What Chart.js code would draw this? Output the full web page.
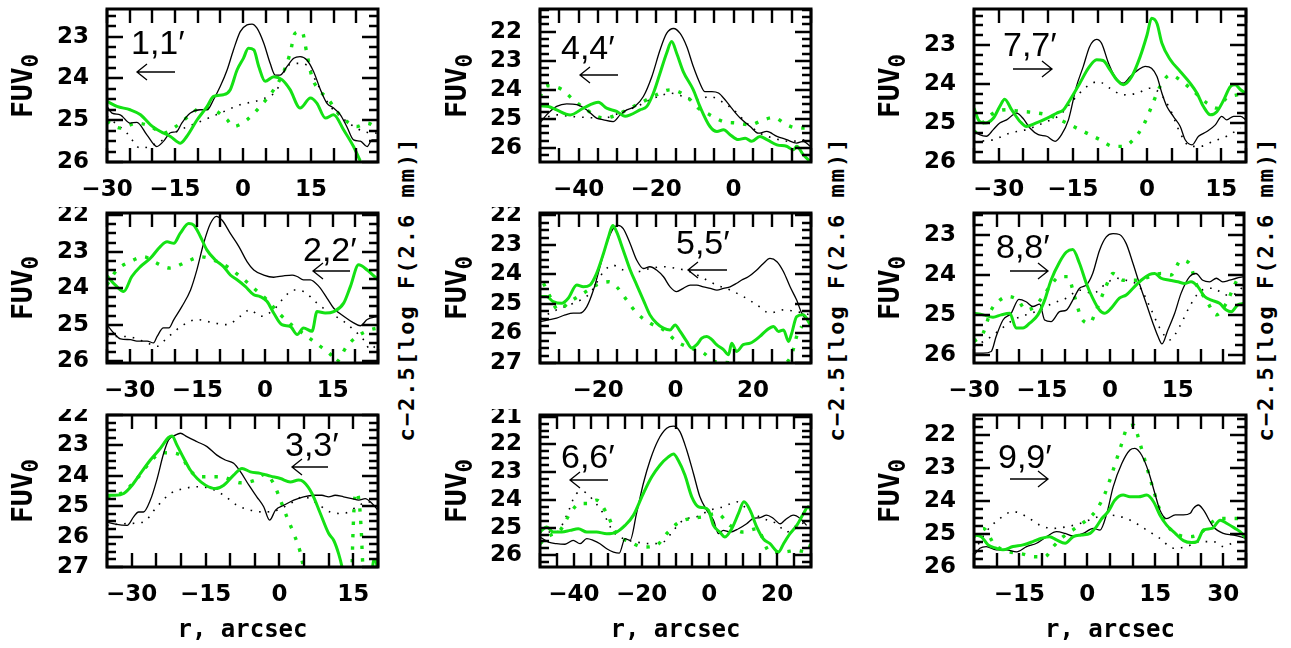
<!DOCTYPE html>
<html>
<head>
<meta charset="utf-8">
<script src="https://cdn.jsdelivr.net/npm/chart.js@4.4.1/dist/chart.umd.min.js"></script>
<style>
  body { margin: 0; background: #fff; width: 1291px; height: 648px; position: relative; overflow: hidden; }
  canvas, svg.ticks { position: absolute; }
  .ytitle, .side, .xtitle, .note { position: absolute; white-space: nowrap; color: #000; line-height: 1; }
  .ytitle { font: bold 28px "DejaVu Sans Mono"; transform: translate(-50%, -50%) rotate(-90deg); }
  .ytitle span { font-size: 0.8em; position: relative; top: 0.25em; }
  .side { font: bold 22px "DejaVu Sans Mono"; letter-spacing: 2px; transform: translate(-50%, -50%) rotate(-90deg); }
  .xtitle { font: bold 24px "DejaVu Sans Mono"; transform: translate(-50%, -50%); }
  .note { font: 34px "Liberation Sans"; }
</style>
</head>
<body>
<script>
// profiles along the slits: [r, magnitude]
// Solid = black solid, Dot = black dotted, Green = green solid, GreenDot = green dotted
const p1Solid = [[-30,24.67],[-28.9,24.83],[-27.1,24.87],[-24.9,25.07],[-23.4,25.05],[-21.2,25.35],[-19,25.63],[-17.5,25.5],[-16,25.3],[-14.6,25.27],[-13.5,25.07],[-11.6,24.83],[-9.4,24.75],[-7.9,24.75],[-6.5,24.51],[-5,24.19],[-3.5,23.8],[-2.1,23.32],[-0.6,22.88],[0.9,22.72],[2,22.7],[3.1,22.8],[4.6,23.16],[6,23.64],[7.1,23.92],[8.2,23.92],[9.7,23.72],[11.2,23.52],[12.6,23.48],[14.1,23.56],[15.6,23.84],[17.1,24.27],[18.5,24.59],[20,24.71],[21.5,24.87],[22.9,25.15],[24.4,25.47],[25.9,25.5],[27.4,25.63],[28.5,25.47],[29.6,25.47]];
const p1Dot = [[-30,24.91],[-25.6,25.31],[-22.6,25.67],[-19,25.55],[-14.6,25.27],[-9.4,25.03],[-5,24.83],[-0.6,24.63],[3.8,24.51],[7.5,24.27],[9.7,23.72],[11.9,23.64],[14.1,23.68],[16.3,24.11],[19.3,24.67],[22.9,25.03],[26.6,25.27],[29.6,25.31]];
const p1Green = [[-30,24.55],[-27.8,24.67],[-24.9,24.75],[-22.6,24.87],[-20.4,25.11],[-18.2,25.27],[-16,25.39],[-13.8,25.55],[-12.4,25.39],[-10.1,24.99],[-7.9,24.67],[-6.5,24.43],[-4.3,24.39],[-2.8,24.27],[-1.3,23.8],[0.1,23.52],[1.2,23.28],[2.4,23.32],[3.5,23.72],[4.9,24.07],[6.8,23.96],[8.6,24.03],[10.4,24.27],[12.6,24.71],[14.9,24.47],[16.3,24.59],[18.2,24.95],[20,24.87],[22.2,25.23],[24.4,25.63],[25.9,25.98]];
const p1GreenDot = [[-30,25.03],[-27.1,25.19],[-23.4,25.07],[-20.4,25.15],[-17.5,25.31],[-15.3,25.19],[-11.6,24.87],[-9.4,24.71],[-6.5,24.75],[-3.5,24.99],[-2.1,25.15],[0.9,24.99],[3.8,24.67],[6.8,24.27],[9,23.84],[10.4,23.4],[11.5,22.92],[13,22.88],[14.1,23.4],[15.2,23.96],[17.1,24.31],[18.9,24.51],[20.7,24.79],[22.9,25.03],[25.1,25.15],[27.4,25.07],[29.6,25.19]];

const p2Solid = [[-35,25],[-33.5,25.23],[-32,25.39],[-29.8,25.41],[-28.4,25.45],[-26.1,25.45],[-24.7,25.5],[-23.9,25.32],[-22.5,25.09],[-21.3,25.09],[-20.2,24.86],[-18.4,24.5],[-16.5,24.05],[-15.1,23.5],[-13.6,22.77],[-12.1,22.23],[-10.8,22.03],[-9.5,22.14],[-7.7,22.5],[-5.8,22.86],[-4,23.27],[-2.5,23.5],[-0.3,23.64],[1.9,23.7],[4.1,23.66],[6,23.64],[7.1,23.68],[8.5,23.77],[10,23.77],[11.9,23.95],[13.7,24.27],[15.2,24.55],[17.4,24.77],[19.6,24.95],[21.1,25.03],[22.6,24.86],[25,24.77]];
const p2Dot = [[-35,25.32],[-32,25.32],[-29.1,25.36],[-26.1,25.5],[-23.9,25.59],[-21.7,25.36],[-18,25],[-15.1,24.86],[-11.4,24.95],[-8.4,25],[-5.5,24.77],[-3.3,24.59],[-1.1,24.77],[1.9,24.59],[4.1,24.27],[6.3,24.05],[8.5,24.09],[11.5,24.41],[14.4,24.68],[17.4,24.91],[19.6,25.14],[21.8,25.41],[23.3,25.68],[25,25.5]];
const p2Green = [[-35,23.66],[-33.2,23.91],[-31.3,24.09],[-29.5,23.68],[-27.6,23.41],[-25.4,23.18],[-23.2,22.86],[-21.7,22.73],[-20.2,22.77],[-18.8,22.5],[-16.9,22.23],[-15.8,22.27],[-14.3,22.59],[-12.9,22.95],[-11,23.23],[-9.2,23.41],[-7.7,23.64],[-6.2,23.77],[-4.4,23.95],[-2.5,24.18],[-1.1,24.23],[0.4,24.36],[1.9,24.68],[3.7,25],[5.6,25.05],[7.1,25.27],[8.5,25.09],[10.4,25.18],[11.5,24.64],[13.3,24.68],[15.2,24.64],[17.4,24.41],[18.9,23.95],[20.7,23.36],[22.6,23.5],[25,23.77]];
const p2GreenDot = [[-35,23.91],[-32.8,23.5],[-29.8,23.27],[-26.9,23.14],[-23.9,23.32],[-21,23.45],[-17.3,23.27],[-14.3,23.14],[-11.4,23.23],[-8.4,23.41],[-5.5,23.68],[-2.5,24],[0.4,24.32],[3.4,24.73],[6.3,25.05],[9.3,25.32],[12.2,25.59],[14.8,25.86],[15.6,26.03],[18.1,25.59],[20.4,25.32],[23.3,25.14],[25,25.09]];

const p3Solid = [[-35,25.52],[-33.3,25.59],[-30.9,25.63],[-29.6,25.35],[-28.6,25.19],[-27.6,25.19],[-26.2,24.8],[-24.9,24.14],[-23.5,23.26],[-22.5,22.82],[-21.1,22.66],[-20.1,22.6],[-18.8,22.71],[-16.7,22.88],[-14.7,23.04],[-12.7,23.32],[-11,23.48],[-9.3,23.59],[-7.9,23.87],[-6.2,24.31],[-4.6,24.69],[-3.2,25.02],[-2,25.46],[-0.8,25.13],[0.9,24.97],[2.9,24.8],[4.9,24.69],[7,24.64],[8.6,24.64],[10,24.69],[11.3,24.64],[13,24.69],[14.7,24.75],[16.1,24.8],[17.4,24.75],[18.8,24.91],[20,25.13]];
const p3Dot = [[-35,25.63],[-30.9,25.57],[-27.6,25.52],[-24.9,25.02],[-22.1,24.58],[-19.4,24.42],[-16.7,24.36],[-14,24.42],[-11.3,24.64],[-8.6,24.97],[-5.9,25.13],[-3.2,25.19],[-0.5,25.13],[2.2,24.91],[4.9,24.69],[7.6,24.91],[10.3,25.19],[13,25.24],[15.7,25.02],[17.8,24.86],[20,24.86]];
const p3Green = [[-35,24.64],[-33.3,24.64],[-31.6,24.58],[-29.9,24.31],[-28.2,23.92],[-26.2,23.48],[-24.2,23.1],[-22.5,22.74],[-21.8,22.69],[-20.8,22.99],[-19.4,23.43],[-18.1,23.81],[-16.7,24.09],[-15,24.31],[-13,24.42],[-11.3,24.31],[-9.3,23.98],[-7.6,23.76],[-5.9,23.87],[-3.9,23.92],[-1.8,24.01],[0.2,24.09],[2.2,24.2],[3.9,24.14],[4.9,24.2],[6.6,24.58],[8.3,25.24],[10,25.9],[11,26.12],[12,26.56],[12.7,27],[13.4,27.6],[18.2,27.6],[18.7,27.3],[19.1,26.8],[19.5,26.75],[19.9,27.1]];
const p3GreenDot = [[-35,24.69],[-31.6,24.53],[-28.9,24.09],[-26.2,23.54],[-24.2,23.26],[-22.5,23.24],[-20.1,23.32],[-18.4,23.76],[-16.4,24.03],[-14.4,24.03],[-12,24.03],[-10,24.12],[-7.9,24.23],[-5.2,24.16],[-2.9,23.95],[-1.2,24.25],[0.2,24.8],[1.5,25.35],[2.9,25.9],[4.2,26.5],[4.9,27],[7,27.6],[14,27.6],[14.7,27.1],[14.9,26],[15.2,24.9],[15.6,24.55],[16.2,24.9],[16.6,25.8],[16.9,26.9],[17.2,27.4]];

const p4Solid = [[-50,25.14],[-48.3,24.86],[-45.7,24.57],[-43.1,24.48],[-40.5,24.51],[-37.9,24.69],[-35.4,24.97],[-33.6,25.03],[-31.1,25.09],[-29.3,24.86],[-27.6,24.69],[-25.5,24.57],[-23.3,24.23],[-21.1,23.54],[-19,22.63],[-17.3,22.06],[-15.5,21.89],[-13.8,22.06],[-12.1,22.51],[-10.4,23.2],[-8.7,23.77],[-7.4,24.06],[-5.6,24.06],[-3.9,24.11],[-2.2,24.34],[-0.5,24.63],[1.7,24.97],[4.3,25.26],[6.4,25.49],[8.6,25.43],[11.2,25.6],[13.7,25.71],[16.3,25.83],[18,25.77],[19.8,25.94]];
const p4Dot = [[-50,25.03],[-45.7,24.86],[-42.2,24.91],[-37.9,24.95],[-33.6,24.97],[-28.5,24.74],[-25,24.57],[-21.6,24.34],[-18.1,24.17],[-16.4,24.11],[-13,24.23],[-9.5,24.34],[-6.1,24.23],[-3.1,24.4],[0,24.69],[3.4,25.14],[6.8,25.49],[10.3,25.66],[14.6,25.77],[18.9,25.71]];
const p4Green = [[-50,24.55],[-47.8,24.57],[-45.7,24.69],[-42.2,24.86],[-38.8,24.63],[-34.9,24.43],[-32.8,24.63],[-30.2,24.74],[-28,24.91],[-26.7,24.86],[-24.2,24.69],[-22.4,24.57],[-20.7,24.11],[-19,23.43],[-17.3,22.74],[-16,22.34],[-14.7,22.74],[-13,23.37],[-10.4,24],[-8.7,24.57],[-6.1,25.26],[-4.3,25.43],[-2.6,25.37],[-0.9,25.54],[1.2,25.71],[3,25.66],[4.7,25.77],[6.8,25.6],[8.6,25.71],[11.2,25.89],[13.7,25.94],[15.5,26.06],[16.3,25.94],[18,26.23],[19.8,26.46]];
const p4GreenDot = [[-50,24.23],[-48.3,23.86],[-44.4,23.98],[-41.4,24.34],[-37.9,24.69],[-35.4,24.91],[-33.2,24.97],[-30.2,24.86],[-26.7,24.63],[-23.3,24.4],[-19.9,24.17],[-16.4,24],[-13.8,24.09],[-11.2,24.34],[-9.1,24.63],[-6.1,24.86],[-2.6,25.09],[0.8,25.14],[4.3,25.2],[7.7,25.03],[10.3,24.95],[13.7,25.2],[16.3,25.31],[18.9,25.31]];

const p5Solid = [[-35,25.6],[-32.8,25.54],[-30.7,25.48],[-28.5,25.37],[-26.4,25.31],[-24.7,25.31],[-22.9,25.09],[-21.2,24.53],[-19.5,23.74],[-17.8,22.96],[-16.1,22.45],[-14.8,22.34],[-13.5,22.45],[-11.7,22.96],[-10,23.52],[-8.3,23.8],[-6.6,23.74],[-4.9,23.85],[-3.1,24.08],[-1.4,24.42],[0.3,24.58],[2,24.47],[3.8,24.36],[5.5,24.36],[7.2,24.42],[9,24.47],[10.7,24.53],[12.4,24.47],[14.1,24.42],[15.8,24.3],[17.1,24.19],[18.8,24.08],[21,23.85],[22.7,23.63],[24.4,23.46],[26.2,23.57],[27.9,23.91],[29.6,24.42],[31.3,24.87],[32.6,25.31],[35,25.71]];
const p5Dot = [[-35,25.48],[-30.7,25.2],[-26.4,24.98],[-22.1,24.64],[-18.6,23.91],[-16.1,23.69],[-13.5,23.85],[-10,23.91],[-6.6,23.8],[-3.1,23.74],[0.3,23.8],[3.8,23.91],[7.2,24.13],[10.7,24.36],[14.1,24.53],[17.5,24.75],[21,25.03],[24.4,25.31],[27.9,25.2],[31.3,25.26],[34.8,25.37]];
const p5Green = [[-35,24.75],[-33.3,24.75],[-31.6,24.92],[-29.4,24.98],[-27.7,24.81],[-25.5,24.36],[-23.8,24.42],[-22.1,24.36],[-20.4,23.97],[-18.6,23.29],[-17.3,22.73],[-16.2,22.34],[-15.2,22.56],[-13.5,23.18],[-11.7,23.85],[-10,24.36],[-8.3,24.87],[-6.6,25.37],[-4.9,25.65],[-3.1,25.82],[-1.4,25.88],[-0.1,25.71],[1.2,25.93],[2.9,26.27],[4.2,26.49],[5.5,26.38],[6.8,26.16],[8.1,26.1],[9.4,26.21],[10.6,26.38],[12.4,26.55],[13.7,26.72],[14.5,26.33],[15.8,26.61],[17.5,26.38],[19.3,26.33],[21.8,26.1],[23.6,25.88],[25.3,25.76],[26.6,25.93],[27.9,25.88],[29.2,26.27],[30,26],[31.3,25.43],[33,25.37],[35,25.76]];
const p5GreenDot = [[-34.1,24.3],[-32.4,24.75],[-30.3,25.2],[-27.2,24.92],[-23.8,24.64],[-20.4,24.36],[-17.3,24.25],[-15.2,24.42],[-12.6,24.87],[-10,25.31],[-6.6,25.65],[-3.1,25.88],[0.3,26.27],[3.8,26.49],[7.2,26.66],[9.8,26.94],[12.4,26.98],[17.1,27.02],[22.7,27.04],[27.9,27.02],[30,26.72],[31.3,26.1],[32.6,25.76]];

const p6Solid = [[-50,25.34],[-47.5,25.52],[-45.1,25.58],[-42.6,25.6],[-40.2,25.46],[-38.2,25.58],[-36.2,25.4],[-34.3,25.46],[-32.3,25.58],[-30.3,25.76],[-28.3,25.88],[-26.6,25.92],[-24.9,25.4],[-23.4,25.46],[-21.5,24.49],[-19.5,23.41],[-17.5,22.57],[-15.1,21.84],[-12.6,21.42],[-10.6,21.34],[-8.7,21.54],[-6.7,22.2],[-4.7,23.05],[-2.8,23.89],[-0.8,24.37],[1.2,24.73],[2.7,25.22],[4.1,25.1],[6.1,25.16],[8.6,25.04],[11,24.86],[13,24.67],[15,24.64],[16.9,24.55],[18.9,24.67],[20.9,24.86],[22.3,24.73],[24.8,24.55],[26.8,24.67],[28.7,24.92]];
const p6Dot = [[-50,25.16],[-45.1,25.16],[-42.1,24.55],[-39.2,23.77],[-37.2,23.71],[-34.3,24.01],[-31.3,24.49],[-28.3,25.16],[-25.4,25.4],[-21.5,25.52],[-17.5,25.58],[-13.6,25.52],[-10.6,25.1],[-7.7,24.73],[-3.7,24.61],[0.2,24.37],[4.1,24.25],[8.1,24.07],[12,24.43],[15.9,24.67],[19.9,24.86],[22.8,25.16],[25.8,24.92],[28.7,24.8]];
const p6Green = [[-50,25.16],[-48,24.98],[-46.1,25.16],[-43.6,25.16],[-41.1,25.1],[-38.7,25.04],[-36.2,25.16],[-33.3,25.16],[-30.3,25.22],[-27.4,25.16],[-24.9,24.92],[-22.4,24.55],[-19.5,23.77],[-17,23.17],[-14.6,22.75],[-12.1,22.45],[-10.6,22.35],[-9.2,22.57],[-7.2,23.11],[-5.2,23.89],[-3.2,24.25],[-1.8,24.28],[-0.3,24.37],[1.2,24.92],[3.1,25.16],[4.6,25.34],[6.6,25.04],[8.6,24.49],[10.2,24.07],[12,24.37],[14,24.98],[15.9,25.4],[17.9,25.58],[20.4,25.88],[21.9,25.58],[23.8,25.22],[25.8,24.92],[27.8,24.49],[29.2,24.25],[30,24.37]];
const p6GreenDot = [[-50,25.58],[-47,25.28],[-44.1,25.1],[-41.1,24.49],[-38.2,24.13],[-35.7,24.13],[-33.3,24.01],[-30.3,24.49],[-27.4,25.22],[-23.4,25.52],[-19.5,25.7],[-15.6,25.64],[-12.6,25.22],[-9.6,24.86],[-5.7,24.67],[-1.8,24.61],[2.2,24.49],[6.1,24.92],[10,25.16],[14,25.04],[17.9,25.88],[21.9,25.88],[25.8,25.82],[28.7,25.88],[30,25.58]];

const p7Solid = [[-35,25.22],[-33.9,25.3],[-32.5,25.34],[-31.1,25.17],[-29.8,25],[-28.4,24.92],[-26.4,24.75],[-25.1,24.88],[-23.7,25.13],[-22,25.3],[-20.3,25.34],[-18.6,25.47],[-17.3,25.3],[-15.9,24.92],[-14.3,24.07],[-12.9,23.55],[-11.6,23.04],[-10.2,22.86],[-9.2,22.96],[-7.8,23.47],[-6.5,23.81],[-4.8,23.98],[-3.4,23.81],[-1.8,23.64],[-0.4,23.55],[0.9,23.6],[2,23.81],[3,24.24],[4,24.58],[5.3,24.83],[6.7,25.09],[7.7,25.43],[9.1,25.56],[10.4,25.34],[12.1,25.22],[13.8,25.05],[15.1,24.83],[16.1,24.92],[17.5,24.83],[18.9,24.83],[20,24.92]];
const p7Dot = [[-35,25.47],[-31.1,25.43],[-27.8,25.26],[-24.4,25.17],[-21,25],[-17.6,24.79],[-14.9,24.41],[-12.2,24.07],[-9.9,23.94],[-7.5,24.11],[-4.8,24.28],[-2.1,24.24],[0.6,24.11],[2.6,24.24],[4.7,24.66],[6.7,25.26],[8.7,25.6],[10.7,25.6],[13.4,25.47],[16.1,25.34],[18.9,25.13]];
const p7Green = [[-35,24.62],[-33.9,24.96],[-32.8,25],[-31.1,24.88],[-29.8,24.58],[-28.8,24.39],[-27.4,24.66],[-25.7,24.96],[-24.4,25.09],[-22.4,25],[-20.3,24.88],[-18.3,24.75],[-16.9,24.66],[-15.6,24.41],[-13.6,23.98],[-11.9,23.6],[-10.2,23.38],[-8.9,23.4],[-7.5,23.64],[-6.1,23.9],[-4.8,24.02],[-3.1,23.81],[-1.4,23.3],[0,22.74],[0.9,22.32],[2,22.45],[3,22.96],[4.7,23.38],[6.7,23.68],[8.7,23.98],[10.1,24.24],[11.4,24.58],[12.8,24.79],[14.1,24.71],[15.5,24.41],[16.8,24.07],[17.8,24.02],[18.9,24.15],[20,24.24]];
const p7GreenDot = [[-35,25.26],[-33.2,24.99],[-31.1,24.75],[-28.4,24.66],[-25.7,24.7],[-23,24.73],[-20.3,24.79],[-17.6,24.92],[-14.9,25.09],[-12.2,25.26],[-9.5,25.43],[-6.8,25.6],[-4.8,25.6],[-2.8,25.43],[-0.7,25.05],[0.9,24.58],[2.6,24.07],[4.7,23.77],[6.7,23.9],[9.4,24.19],[12.1,24.49],[14.1,24.62],[16.1,24.36],[18.2,24.28],[20,24.24]];

const p8Solid = [[-30,25.96],[-28,25.96],[-26.2,25.92],[-25.1,25.54],[-23.6,25.13],[-21.8,24.96],[-20.1,24.61],[-18.5,24.67],[-17,24.79],[-15.5,24.73],[-14.4,25.13],[-13,25.17],[-11.1,24.92],[-9.6,24.88],[-8.2,24.63],[-6.7,24.33],[-5.2,24.25],[-3.8,23.96],[-2.3,23.38],[-0.8,23.04],[0.7,22.96],[2.1,22.98],[3.6,23.21],[5.1,23.71],[6.5,24.21],[8,24.71],[9.5,25.21],[10.6,25.54],[11.5,25.73],[12.8,25.38],[14.3,24.96],[15.7,24.46],[17.6,24.04],[19,23.96],[20.5,24.13],[22,24.17],[23.5,24.08],[24.9,24.17],[26.4,24.13],[27.9,24.08],[29.6,24.04]];
const p8Dot = [[-30,25.79],[-27.3,25.63],[-24.3,25.38],[-21.4,25.13],[-18.5,25],[-15.5,24.88],[-12.6,24.71],[-9.6,24.58],[-6.7,24.38],[-3.8,24.46],[-0.8,24.21],[1.4,24.08],[3.6,24.13],[6.5,24.29],[8.8,24.79],[11,25.33],[13.2,25.63],[15.4,25.29],[17.6,24.79],[19.8,24.42],[22.7,24.33],[25.7,24.5],[27.9,24.46],[29.6,24.25]];
const p8Green = [[-30,24.96],[-28,25],[-25.8,25.06],[-24,25],[-22.1,24.96],[-20.7,25.33],[-19.2,25.33],[-17.7,25.21],[-15.9,25],[-14.4,24.63],[-13,24.13],[-11.1,23.67],[-9.6,23.42],[-8.2,23.36],[-6.7,23.71],[-5.2,24.21],[-3.8,24.58],[-2.3,24.88],[-1.2,24.96],[0.3,24.83],[2.1,24.58],[3.6,24.5],[5.1,24.33],[6.9,24.13],[8.8,23.98],[9.9,23.96],[11.3,24.08],[13.2,24.13],[15,24.17],[16.5,24.21],[17.9,24.17],[19.4,24.29],[20.9,24.54],[22.4,24.63],[24.2,24.71],[25.7,24.88],[26.8,24.92],[28.2,24.75],[29.6,24.71]];
const p8GreenDot = [[-30,25.67],[-28,25.46],[-26.2,24.88],[-24.3,24.63],[-22.5,24.54],[-20.3,24.63],[-18.5,24.88],[-16.6,24.79],[-14.8,24.54],[-13,24.25],[-11.1,24.04],[-9.3,24.04],[-7.8,24.54],[-6.3,25.08],[-4.5,25.21],[-3,24.88],[-1.2,24.38],[0.7,23.96],[2.9,24.13],[5.8,24.13],[8.8,24.04],[11.3,23.96],[13.5,24],[15.7,23.63],[17.6,23.71],[19,24.21],[21.3,24.63],[23.5,25],[25.7,24.71],[27.5,24.25],[28.6,24]];

const p9Solid = [[-25,25.64],[-23.7,25.43],[-22.3,25.38],[-20.1,25.48],[-17.9,25.48],[-15.6,25.54],[-13.4,25.38],[-11.2,25.28],[-9,25.08],[-6.8,24.93],[-4.9,24.98],[-3.1,25.06],[-0.9,24.98],[1.3,24.83],[2.8,24.88],[4.3,24.37],[5.7,23.57],[7.6,22.86],[9.4,22.45],[10.5,22.4],[12,22.61],[13.5,23.11],[14.9,23.77],[16,24.27],[17.5,24.53],[19.4,24.42],[21.2,24.42],[22.7,24.37],[23.4,24.22],[24.5,24.12],[25.6,24.27],[27.8,24.78],[30,24.98],[32.3,25.03],[35,25.13]];
const p9Dot = [[-25,25.54],[-22.3,24.93],[-19.3,24.53],[-16.4,24.32],[-13.4,24.47],[-10.5,24.73],[-7.5,24.83],[-4.6,24.78],[-1.6,24.68],[1.3,24.53],[4.3,24.42],[7.2,24.47],[10.2,24.63],[13.1,24.88],[16,25.13],[19,25.43],[21.9,25.38],[24.9,25.23],[27.8,25.23],[30,25.38],[33,25.18]];
const p9Green = [[-25,25.03],[-23.4,25.08],[-21.9,25.33],[-20.1,25.43],[-18.6,25.48],[-16.4,25.38],[-14.2,25.33],[-12,25.23],[-10.1,25.13],[-8.3,25.08],[-6.8,25.18],[-4.9,25.28],[-3.1,25.08],[-1.3,25.03],[0.6,24.98],[2,24.78],[3.2,24.53],[4.6,24.32],[6.1,23.97],[7.9,23.82],[9.4,23.87],[11.3,23.87],[13.1,23.82],[14.6,24.02],[16,24.42],[17.5,24.73],[19.4,24.98],[21.2,25.2],[23,25.26],[24.2,25.23],[25.6,24.88],[27.5,24.83],[29.3,24.58],[30.8,24.68],[32.6,24.83],[33.7,24.93],[35,25.13]];
const p9GreenDot = [[-25,25.08],[-23,24.83],[-20.4,25.33],[-17.1,25.54],[-14.2,25.61],[-11.6,25.69],[-9.4,25.69],[-7.5,25.38],[-5.3,25.08],[-2.7,24.83],[-0.2,24.58],[2,24.27],[3.9,23.77],[5.7,23.06],[7.6,22.25],[8.7,21.8],[10.2,21.7],[11.6,22.25],[13.1,22.96],[14.6,23.67],[16,24.27],[17.9,24.78],[20.1,25.03],[22.7,25.08],[24.9,24.98],[27.1,24.68],[29.3,24.53],[31.5,24.53],[33.7,24.53]];

// tick labels
const xLabels15 = [-30, -15, 0, 15];
const xLabels4 = [-40, -20, 0];
const xLabels5 = [-20, 0, 20];
const xLabels6 = [-40, -20, 0, 20];
const xLabels9 = [-15, 0, 15, 30];
const yLabels1 = [23, 24, 25, 26];
const yLabels2 = [22, 23, 24, 25, 26];
const yLabels5 = [22, 23, 24, 25, 26, 27];
const yLabels6 = [21, 22, 23, 24, 25, 26];

const GREEN = 'rgb(20,225,20)';

// frame = [left, top, right, bottom] in page pixels
const panels = [
  { frame: [107, 9, 378, 162], xr: [-30, 29.8], yr: [22.34, 26], xl: xLabels15, yl: yLabels1,
    lines: [p1Solid, p1Dot, p1Green, p1GreenDot], note: '1,1′', noteAt: [131, 23], arrow: [137, 175, 72, -1] },
  { frame: [540, 9, 811, 162], xr: [-50, 20], yr: [21.22, 26.48], xl: xLabels4, yl: yLabels2,
    lines: [p4Solid, p4Dot, p4Green, p4GreenDot], note: '4,4′', noteAt: [561, 28], arrow: [580, 618, 75, -1] },
  { frame: [974, 9, 1246, 162], xr: [-35, 20], yr: [22.08, 26], xl: xLabels15, yl: yLabels1,
    lines: [p7Solid, p7Dot, p7Green, p7GreenDot], note: '7,7′', noteAt: [1003, 25], arrow: [1013, 1052, 69, 1] },
  { frame: [107, 213, 378, 363], xr: [-35, 25], yr: [21.94, 26.05], xl: xLabels15, yl: yLabels2,
    lines: [p2Solid, p2Dot, p2Green, p2GreenDot], note: '2,2′', noteAt: [303, 230], arrow: [313, 350, 271, -1] },
  { frame: [540, 213, 811, 363], xr: [-35, 35], yr: [21.92, 27], xl: xLabels5, yl: yLabels5,
    lines: [p5Solid, p5Dot, p5Green, p5GreenDot], note: '5,5′', noteAt: [676, 223], arrow: [688, 727, 270, -1] },
  { frame: [974, 213, 1244, 363], xr: [-30, 29.6], yr: [22.44, 26.21], xl: xLabels15, yl: yLabels1,
    lines: [p8Solid, p8Dot, p8Green, p8GreenDot], note: '8,8′', noteAt: [996, 227], arrow: [1010, 1048, 271, 1] },
  { frame: [107, 415, 378, 567], xr: [-35, 20], yr: [22, 27], xl: xLabels15, yl: yLabels5,
    lines: [p3Solid, p3Dot, p3Green, p3GreenDot], note: '3,3′', noteAt: [285, 425], arrow: [292, 328, 467, -1] },
  { frame: [540, 415, 811, 567], xr: [-50, 30], yr: [20.94, 26.42], xl: xLabels6, yl: yLabels6,
    lines: [p6Solid, p6Dot, p6Green, p6GreenDot], note: '6,6′', noteAt: [561, 437], arrow: [570, 608, 480, -1] },
  { frame: [974, 415, 1246, 567], xr: [-25, 35], yr: [21.39, 26], xl: xLabels9, yl: yLabels2,
    lines: [p9Solid, p9Dot, p9Green, p9GreenDot], note: '9,9′', noteAt: [998, 437], arrow: [1010, 1048, 479, 1] }
];

const PAD_L = 75, PAD_T = 6, PAD_R = 6, PAD_B = 40;
const SVG_NS = 'http://www.w3.org/2000/svg';

function pickLabel(value, list) {
  const hit = list.find(v => Math.abs(v - value) < 1e-6);
  return hit === undefined ? '' : String(hit).replace('-', '\u2212');
}

function addText(html, cls, x, y) {
  const d = document.createElement('div');
  d.className = cls;
  d.innerHTML = html;
  d.style.left = x + 'px';
  d.style.top = y + 'px';
  document.body.appendChild(d);
}

// fixed axis boxes so the plot frame lands where it should
function fixBox(size, horizontal) {
  return s => {
    if (horizontal) s.height = size; else s.width = size;
    s.paddingLeft = s.paddingRight = s.paddingTop = s.paddingBottom = 0;
  };
}

// inward tick marks on all four sides, placed with the chart's own scales
function tickPath(chart, p) {
  const a = chart.chartArea;
  const xs = chart.scales.x, ys = chart.scales.y;
  let d = '';
  for (let k = Math.ceil(p.xr[0] / 5 - 1e-9); k * 5 <= p.xr[1] + 1e-9; k++) {
    const px = Math.round(xs.getPixelForValue(k * 5));
    d += `M${px} ${a.bottom}V${a.bottom - 14}M${px} ${a.top}V${a.top + 14}`;
  }
  for (let k = Math.ceil(p.yr[0] * 4 - 1e-9); k <= Math.floor(p.yr[1] * 4 + 1e-9); k++) {
    const py = Math.round(ys.getPixelForValue(k / 4));
    const len = k % 4 === 0 ? 16 : 9;
    d += `M${a.left} ${py}H${a.left + len}M${a.right} ${py}H${a.right - len}`;
  }
  return d;
}

// box and direction arrow
function framePlugin(p) {
  const [l, t] = p.frame;
  const ox = l - PAD_L, oy = t - PAD_T;
  return {
    id: 'frameBox',
    afterDraw(chart) {
      const ctx = chart.ctx;
      const a = chart.chartArea;
      ctx.save();
      ctx.strokeStyle = '#000';
      ctx.lineWidth = 3;
      ctx.strokeRect(a.left, a.top, a.right - a.left, a.bottom - a.top);

      const [ax1, ax2, ay, dir] = p.arrow;
      const tip = (dir < 0 ? ax1 : ax2) - ox, yy = ay - oy;
      ctx.lineWidth = 1.3;
      ctx.beginPath();
      ctx.moveTo(ax1 - ox, yy); ctx.lineTo(ax2 - ox, yy);
      ctx.moveTo(tip - dir * 10, yy - 8); ctx.lineTo(tip, yy); ctx.lineTo(tip - dir * 10, yy + 8);
      ctx.stroke();
      ctx.restore();
    }
  };
}

const tickFont = { family: 'DejaVu Sans', weight: 'bold', size: 23 };

panels.forEach(p => {
  const [l, t, r, b] = p.frame;
  const w = (r - l) + PAD_L + PAD_R, h = (b - t) + PAD_T + PAD_B;
  const cv = document.createElement('canvas');
  cv.width = w;
  cv.height = h;
  cv.style.left = (l - PAD_L) + 'px';
  cv.style.top = (t - PAD_T) + 'px';
  document.body.appendChild(cv);

  const [solid, dot, green, greenDot] = p.lines;
  const chart = new Chart(cv, {
    type: 'line',
    data: {
      datasets: [
        { data: green, borderColor: GREEN, borderWidth: 3 },
        { data: solid, borderColor: '#000', borderWidth: 1.3 },
        { data: greenDot, borderColor: GREEN, borderWidth: 3.4, borderDash: [3.4, 9] },
        { data: dot, borderColor: '#000', borderWidth: 1.6, borderDash: [1.6, 7] }
      ]
    },
    options: {
      responsive: false,
      animation: false,
      events: [],
      layout: { padding: { left: 0, top: PAD_T, right: PAD_R, bottom: 0 }, autoPadding: false },
      elements: { point: { radius: 0 }, line: { cubicInterpolationMode: 'monotone', fill: false } },
      plugins: { legend: { display: false }, tooltip: { enabled: false } },
      scales: {
        x: {
          type: 'linear', min: p.xr[0], max: p.xr[1],
          afterFit: fixBox(PAD_B, true),
          grid: { display: false, drawTicks: false },
          border: { display: false },
          ticks: { stepSize: 5, autoSkip: false, includeBounds: false, maxRotation: 0, padding: 14,
                   color: '#000', font: tickFont, callback: v => pickLabel(v, p.xl) }
        },
        y: {
          type: 'linear', reverse: true, min: p.yr[0], max: p.yr[1],
          afterFit: fixBox(PAD_L, false),
          grid: { display: false, drawTicks: false },
          border: { display: false },
          ticks: { stepSize: 1, autoSkip: false, includeBounds: false, padding: 18,
                   color: '#000', font: tickFont, callback: v => pickLabel(v, p.yl) }
        }
      }
    },
    plugins: [framePlugin(p)]
  });

  const svg = document.createElementNS(SVG_NS, 'svg');
  svg.setAttribute('class', 'ticks');
  svg.setAttribute('width', w);
  svg.setAttribute('height', h);
  svg.style.left = (l - PAD_L) + 'px';
  svg.style.top = (t - PAD_T) + 'px';
  const path = document.createElementNS(SVG_NS, 'path');
  path.setAttribute('d', tickPath(chart, p));
  path.setAttribute('stroke', '#000');
  path.setAttribute('stroke-width', '2.4');
  path.setAttribute('fill', 'none');
  svg.appendChild(path);
  document.body.appendChild(svg);

  addText(p.note, 'note', p.noteAt[0], p.noteAt[1]);
});

// axis titles
[22, 456, 889].forEach(cx => {
  [85.5, 288, 491].forEach(cy => addText('FUV<span>0</span>', 'ytitle', cx, cy));
});
[406, 836, 1265].forEach(cx => addText('c\u22122.5[log F(2.6 mm)]', 'side', cx, 289));
[242.5, 675.5, 1110].forEach(cx => addText('r, arcsec', 'xtitle', cx, 629));
</script>
</body>
</html>
